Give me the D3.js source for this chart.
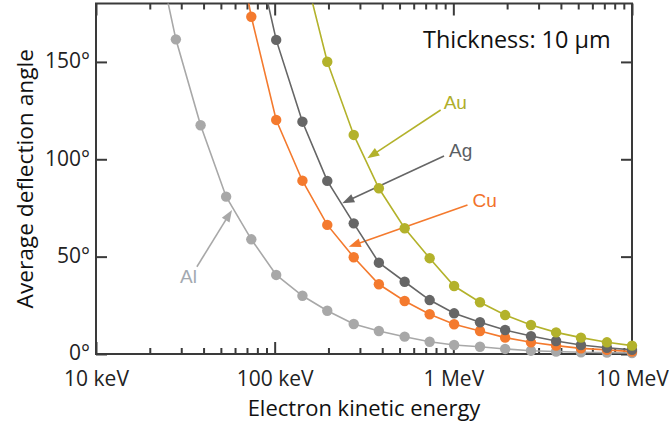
<!DOCTYPE html>
<html>
<head>
<meta charset="utf-8">
<script src="https://cdn.jsdelivr.net/npm/d3@7"></script>
<style>
  html, body { margin: 0; padding: 0; background: #fff; }
  svg { display: block; }
</style>
</head>
<body>
<svg id="chart" width="669" height="426"></svg>
<script>
// Electron kinetic energy in keV (about 7 samples per decade)
const energiesKeV = [10, 14, 20, 28, 38.5, 53.5, 74, 102, 143, 197, 277, 383, 534, 737,
                     1010, 1410, 1950, 2720, 3760, 5180, 7240, 10000];

// Average deflection angle (degrees) after 10 µm of material; null = not computed
const alAngles = [null, null, 224, 161.6, 117.5, 80.8, 58.9, 40.6, 29.9, 22.2, 15.4, 11.8, 8.9, 6.3,
                  4.6, 3.7, 2.6, 1.7, 1.3, 0.9, 0.7, 0.5];
const cuAngles = [null, null, null, null, null, 240, 173.2, 120.2, 89.0, 66.3, 49.7, 35.8, 27.2, 20.4,
                  15.3, 11.8, 8.4, 6.0, 4.3, 2.9, 2.1, 1.2];
const agAngles = [null, null, null, null, null, null, 218, 161.3, 119.3, 88.9, 67.1, 46.9, 37.1, 27.7,
                  20.9, 16.3, 12.3, 9.2, 6.7, 4.6, 3.2, 2.1];
const auAngles = [null, null, null, null, null, null, null, null, 201, 150.1, 112.5, 85.1, 64.6, 49.2,
                  34.9, 26.6, 20.0, 14.9, 11.1, 8.4, 6.0, 4.3];

const seriesNames = ["Al", "Cu", "Ag", "Au"];

// Axis ticks
const xMajorTicks = [10, 100, 1000, 10000];
const xMajorLabels = ["10 keV", "100 keV", "1 MeV", "10 MeV"];
const xMinorTicks = [20, 30, 40, 50, 60, 70, 80, 90,
                     200, 300, 400, 500, 600, 700, 800, 900,
                     2000, 3000, 4000, 5000, 6000, 7000, 8000, 9000];
const yTicks = [0, 50, 100, 150];
const yTickLabels = ["0°", "50°", "100°", "150°"];

// Callout arrows: tail (label end) and tip, in [keV, degrees]
const calloutNames = ["Au", "Ag", "Cu", "Al"];
const calloutTails = [[849, 125.3], [887, 101.7], [1200, 76.5], [36.7, 44.8]];
const calloutTips  = [[330, 100.5], [239, 77.4], [260, 55.1], [57.7, 74.0]];

const thicknessNote = "Thickness: 10 µm";
const xTitle = "Electron kinetic energy";
const yTitle = "Average deflection angle";

// ---- drawing ----
(function draw() {
  const svg = d3.select("#chart");
  const W = 669, H = 426;
  const plotLeft = 96, plotRight = 632, plotTop = 3.5, plotBottom = 354;

  const x = d3.scaleLog().domain([10, 10000]).range([plotLeft, plotRight]);
  const y = d3.scaleLinear().domain([0, 180]).range([plotBottom, plotTop]);

  const colors = { Al: "#a8a8a8", Cu: "#f47a2e", Ag: "#666666", Au: "#b3b22b" };
  const labelColors = { Al: "#a3a9b0", Cu: "#f2722a", Ag: "#5a5e64", Au: "#afae2a" };
  const axisColor = "#3a3a3a";
  const axisFont = "'Open Sans', 'Noto Sans', sans-serif";

  svg.append("rect").attr("width", W).attr("height", H).attr("fill", "#fff");

  svg.append("defs").append("clipPath").attr("id", "plotClip")
    .append("rect").attr("x", plotLeft - 10).attr("y", plotTop)
    .attr("width", W - plotLeft + 10).attr("height", H - plotTop);

  // Frame
  svg.append("rect")
    .attr("x", plotLeft).attr("y", plotTop)
    .attr("width", plotRight - plotLeft).attr("height", plotBottom - plotTop)
    .attr("fill", "none").attr("stroke", axisColor).attr("stroke-width", 2);

  function styleAxis(g) {
    g.select(".domain").remove();
    g.selectAll(".tick line").attr("stroke", axisColor).attr("stroke-width", 2);
    g.selectAll(".tick text").attr("fill", "#222").style("font-family", axisFont).style("font-size", "21px");
  }

  // Bottom axis: inward ticks, labels below
  svg.append("g").attr("transform", `translate(0,${plotBottom})`)
    .call(d3.axisBottom(x).tickValues(xMinorTicks).tickSizeInner(-6).tickSizeOuter(0).tickFormat(""))
    .call(styleAxis);
  svg.append("g").attr("transform", `translate(0,${plotBottom})`)
    .call(d3.axisBottom(x).tickValues(xMajorTicks).tickSizeInner(-12).tickSizeOuter(0)
          .tickPadding(17).tickFormat((d, i) => xMajorLabels[i]))
    .call(styleAxis);

  // Top axis: inward ticks, no labels
  svg.append("g").attr("transform", `translate(0,${plotTop})`)
    .call(d3.axisTop(x).tickValues(xMinorTicks).tickSizeInner(-6).tickSizeOuter(0).tickFormat(""))
    .call(styleAxis);
  svg.append("g").attr("transform", `translate(0,${plotTop})`)
    .call(d3.axisTop(x).tickValues(xMajorTicks).tickSizeInner(-12).tickSizeOuter(0).tickFormat(""))
    .call(styleAxis);

  // Left axis with degree labels
  svg.append("g").attr("transform", `translate(${plotLeft},0)`)
    .call(d3.axisLeft(y).tickValues(yTicks).tickSizeInner(-11).tickSizeOuter(0)
          .tickPadding(6).tickFormat((d, i) => yTickLabels[i]))
    .call(styleAxis)
    .call(g => g.selectAll(".tick text").attr("dy", "0.28em"));

  // Right axis: inward ticks only
  svg.append("g").attr("transform", `translate(${plotRight},0)`)
    .call(d3.axisRight(y).tickValues(yTicks).tickSizeInner(-11).tickSizeOuter(0).tickFormat(""))
    .call(styleAxis);

  // Axis titles
  svg.append("text")
    .attr("x", (plotLeft + plotRight) / 2).attr("y", 416)
    .attr("text-anchor", "middle")
    .style("font-family", axisFont).style("font-size", "22px").attr("fill", "#111")
    .text(xTitle);
  svg.append("text")
    .attr("transform", `translate(33,${(plotTop + plotBottom) / 2}) rotate(-90)`)
    .attr("text-anchor", "middle")
    .style("font-family", axisFont).style("font-size", "22.7px").attr("fill", "#111")
    .text(yTitle);

  // Thickness note
  svg.append("text")
    .attr("x", 423).attr("y", 48)
    .style("font-family", axisFont).style("font-size", "23.4px").attr("fill", "#111")
    .text(thicknessNote);

  // Callout arrows with element labels
  const labelOffsets = { Au: [3, -1.5, "start"], Ag: [5, 1, "start"], Cu: [5, 2, "start"], Al: [0, 16.5, "end"] };
  const calloutLayer = svg.append("g");
  calloutNames.forEach((name, i) => {
    const tx = x(calloutTails[i][0]), ty = y(calloutTails[i][1]);
    const px = x(calloutTips[i][0]), py = y(calloutTips[i][1]);
    const dx = px - tx, dy = py - ty, len = Math.hypot(dx, dy);
    const ux = dx / len, uy = dy / len;
    const headLen = 12, headHalf = 4.5;
    const bx = px - ux * headLen, by = py - uy * headLen;
    calloutLayer.append("line")
      .attr("x1", tx).attr("y1", ty).attr("x2", bx + ux * 2).attr("y2", by + uy * 2)
      .attr("stroke", colors[name]).attr("stroke-width", 1.6);
    calloutLayer.append("path")
      .attr("d", `M${px},${py}L${bx - uy * headHalf},${by + ux * headHalf}L${bx + uy * headHalf},${by - ux * headHalf}Z`)
      .attr("fill", colors[name]);
    const off = labelOffsets[name];
    calloutLayer.append("text")
      .attr("x", tx + off[0]).attr("y", ty + off[1])
      .attr("text-anchor", off[2])
      .style("font-family", "'Liberation Sans', Arial, sans-serif").style("font-size", "19px")
      .attr("fill", labelColors[name])
      .text(name);
  });

  // Data series
  const seriesValues = { Al: alAngles, Cu: cuAngles, Ag: agAngles, Au: auAngles };
  const plot = svg.append("g").attr("clip-path", "url(#plotClip)");
  const line = d3.line().x(d => x(d.e)).y(d => y(d.a));

  seriesNames.forEach(name => {
    const pts = energiesKeV.map((e, i) => ({ e, a: seriesValues[name][i] })).filter(d => d.a !== null);
    const g = plot.append("g");
    g.append("path").datum(pts)
      .attr("d", line).attr("fill", "none")
      .attr("stroke", colors[name]).attr("stroke-width", 1.6);
    g.selectAll("circle").data(pts.filter(d => d.a <= 180)).join("circle")
      .attr("cx", d => x(d.e)).attr("cy", d => y(d.a)).attr("r", 5.2)
      .attr("fill", colors[name]);
  });
})();
</script>
</body>
</html>
